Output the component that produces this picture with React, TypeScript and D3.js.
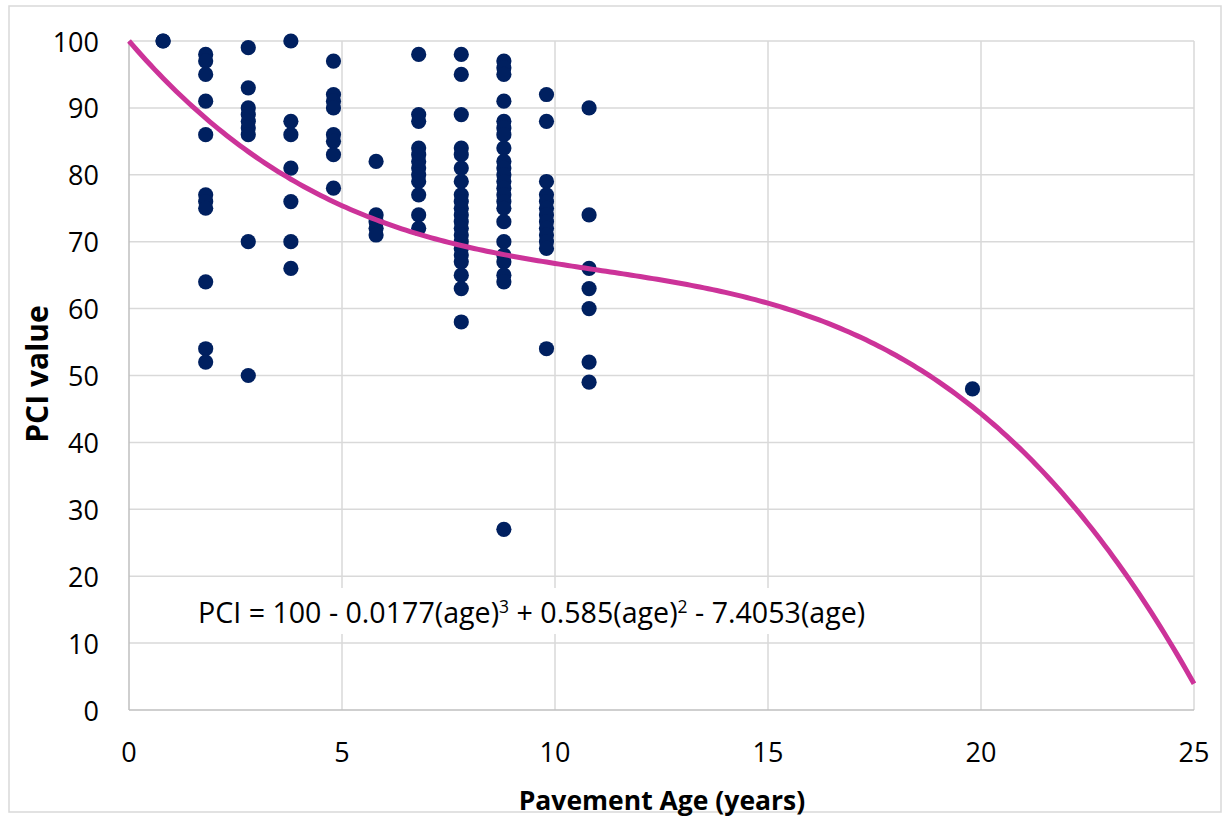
import React from "react";
import * as d3 from "d3";

// ---- data ----
const ageGroups: number[] = [0.8, 1.8, 2.8, 3.8, 4.8, 5.8, 6.8, 7.8, 8.8, 9.8, 10.8, 19.8];
const pciGroups: number[][] = [
  [100, 100],
  [98, 97, 95, 91, 86, 77, 76, 75, 64, 54, 52],
  [99, 93, 90, 89, 88, 87, 86, 70, 50],
  [100, 88, 86, 81, 76, 70, 66],
  [97, 92, 91, 90, 86, 85, 83, 78],
  [82, 74, 73, 72, 71],
  [98, 89, 88, 84, 83, 82, 81, 80, 79, 77, 74, 72],
  [98, 95, 89, 84, 83, 81, 79, 77, 76, 75, 74, 73, 72, 71, 70, 69, 68, 67, 65, 63, 58],
  [97, 96, 95, 91, 88, 87, 86, 84, 82, 81, 80, 79, 78, 77, 76, 75, 73, 70, 68, 67, 65, 64, 27],
  [92, 88, 79, 77, 76, 75, 74, 73, 72, 71, 70, 69, 54],
  [90, 74, 66, 63, 60, 52, 49],
  [48],
];
// trendline coefficients: PCI = c0 + c1*age + c2*age^2 + c3*age^3
const trendCoefficients: number[] = [100, -7.4053, 0.585, -0.0177];
const xTicks: number[] = [0, 5, 10, 15, 20, 25];
const yTicks: number[] = [0, 10, 20, 30, 40, 50, 60, 70, 80, 90, 100];
const xTitle = "Pavement Age (years)";
const yTitle = "PCI value";

const W = 1230;
const H = 818;
const FONT = "'Open Sans', 'Noto Sans', sans-serif";

export default function App() {
  const x = d3.scaleLinear().domain([0, 25]).range([129, 1194]);
  const y = d3.scaleLinear().domain([0, 100]).range([710, 41]);

  const points: { a: number; p: number }[] = [];
  ageGroups.forEach((a, i) => pciGroups[i].forEach((p) => points.push({ a, p })));

  const trend = (a: number) =>
    trendCoefficients.reduce((s, c, k) => s + c * Math.pow(a, k), 0);
  const curveXs = d3.range(0, 25.0001, 0.1);
  const line = d3
    .line<number>()
    .x((a) => x(a))
    .y((a) => y(trend(a)))
    .curve(d3.curveLinear);

  return (
    <svg
      width={W}
      height={H}
      style={{ position: "absolute", left: 0, top: 0, background: "#fff" }}
    >
      <rect x={0} y={0} width={W} height={H} fill="#fff" />
      <rect x={9} y={6} width={1212} height={806} fill="none" stroke="#D9D9D9" strokeWidth={1.5} />

      {/* gridlines */}
      {yTicks
        .filter((t) => t > 0)
        .map((t) => (
          <line key={"gy" + t} x1={x(0)} x2={x(25)} y1={y(t)} y2={y(t)} stroke="#D9D9D9" strokeWidth={1.5} />
        ))}
      {xTicks
        .filter((t) => t > 0)
        .map((t) => (
          <line key={"gx" + t} x1={x(t)} x2={x(t)} y1={y(0)} y2={y(100)} stroke="#D9D9D9" strokeWidth={1.5} />
        ))}
      {/* axes */}
      <line x1={x(0)} x2={x(25)} y1={y(0)} y2={y(0)} stroke="#BFBFBF" strokeWidth={1.5} />
      <line x1={x(0)} x2={x(0)} y1={y(0)} y2={y(100)} stroke="#BFBFBF" strokeWidth={1.5} />

      {/* equation label */}
      <rect x={190} y={588} width={688} height={46} fill="#fff" />
      <text x={198} y={623} fontFamily={FONT} fontSize={28.6} fill="#000">
        PCI = 100 - 0.0177(age)
        <tspan dy={-10} fontSize={17.5}>3</tspan>
        <tspan dy={10}> + 0.585(age)</tspan>
        <tspan dy={-10} fontSize={17.5}>2</tspan>
        <tspan dy={10}> - 7.4053(age)</tspan>
      </text>

      {/* points */}
      {points.map((d, i) => (
        <circle key={i} cx={x(d.a)} cy={y(d.p)} r={7.6} fill="#002060" />
      ))}

      {/* trend curve */}
      <path d={line(curveXs) || ""} fill="none" stroke="#CC3399" strokeWidth={5} />

      {/* tick labels */}
      {yTicks.map((t) => (
        <text
          key={"ty" + t}
          x={99}
          y={y(t)}
          textAnchor="end"
          dominantBaseline="central"
          fontFamily={FONT}
          fontSize={27}
          fill="#000"
        >
          {t}
        </text>
      ))}
      {xTicks.map((t) => (
        <text
          key={"tx" + t}
          x={x(t)}
          y={751}
          textAnchor="middle"
          dominantBaseline="central"
          fontFamily={FONT}
          fontSize={27}
          fill="#000"
        >
          {t}
        </text>
      ))}

      {/* axis titles */}
      <text
        x={662}
        y={800}
        textAnchor="middle"
        dominantBaseline="central"
        fontFamily={FONT}
        fontWeight="bold"
        fontSize={26.5}
        fill="#000"
      >
        {xTitle}
      </text>
      <text
        transform={`translate(36,374) rotate(-90)`}
        textAnchor="middle"
        dominantBaseline="central"
        fontFamily={FONT}
        fontWeight="bold"
        fontSize={30}
        fill="#000"
      >
        {yTitle}
      </text>
    </svg>
  );
}
